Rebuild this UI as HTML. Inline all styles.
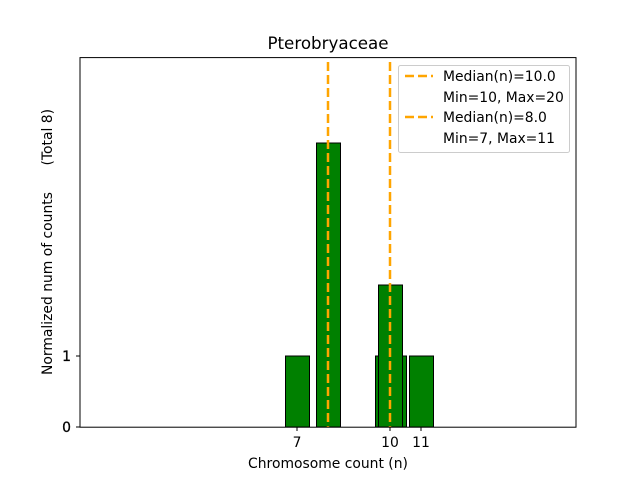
<!DOCTYPE html>
<html><head><meta charset="utf-8"><style>body{margin:0;background:#fff}</style></head><body>
<svg width="640" height="480" xmlns="http://www.w3.org/2000/svg" font-family="DejaVu Sans, Liberation Sans, sans-serif">
<rect width="640" height="480" fill="#fff"/>
<g stroke="#000" stroke-width="1" fill="#008000">
<rect x="375.5" y="356" width="31" height="71"/>
<rect x="285.5" y="356" width="24" height="71"/>
<rect x="316.5" y="143" width="24" height="284"/>
<rect x="378.5" y="285" width="24" height="142"/>
<rect x="409.5" y="356" width="24" height="71"/>
</g>
<g stroke="#FFA500" stroke-width="2.5" stroke-dasharray="9,4">
<line x1="328" y1="62" x2="328" y2="427"/>
<line x1="390" y1="62" x2="390" y2="427"/>
</g>
<rect x="80" y="57.6" width="496" height="369.6" fill="none" stroke="#000" stroke-width="1"/>
<g stroke="#000">
<line x1="76" y1="427" x2="80" y2="427"/><line x1="76" y1="356" x2="80" y2="356"/>
<line x1="297" y1="427" x2="297" y2="431"/><line x1="390" y1="427" x2="390" y2="431"/><line x1="421" y1="427" x2="421" y2="431"/>
</g>
<g font-size="13.9" fill="#000">
<text x="71" y="432" text-anchor="end" stroke="#000" stroke-width="0.3">0</text>
<text x="71" y="361" text-anchor="end" stroke="#000" stroke-width="0.3">1</text>
<text x="297" y="447" text-anchor="middle">7</text>
<text x="390" y="447" text-anchor="middle">10</text>
<text x="421" y="447" text-anchor="middle">11</text>
<text x="328" y="468" text-anchor="middle">Chromosome count (n)</text>
<text transform="translate(52,242) rotate(-90)" text-anchor="middle" xml:space="preserve" style="white-space:pre">Normalized num of counts      (Total 8)</text>
<text x="328" y="49" text-anchor="middle" font-size="16.7">Pterobryaceae</text>
</g>
<rect x="398.5" y="65.5" width="171" height="87" rx="2" fill="#fff" fill-opacity="0.8" stroke="#ccc"/>
<g stroke="#FFA500" stroke-width="2.5" stroke-dasharray="9,4">
<line x1="405" y1="76" x2="433" y2="76"/>
<line x1="405" y1="117" x2="433" y2="117"/>
</g>
<g font-size="13.9" fill="#000">
<text x="443" y="81">Median(n)=10.0</text>
<text x="443" y="102">Min=10, Max=20</text>
<text x="443" y="122">Median(n)=8.0</text>
<text x="443" y="143">Min=7, Max=11</text>
</g>
</svg>
</body></html>
